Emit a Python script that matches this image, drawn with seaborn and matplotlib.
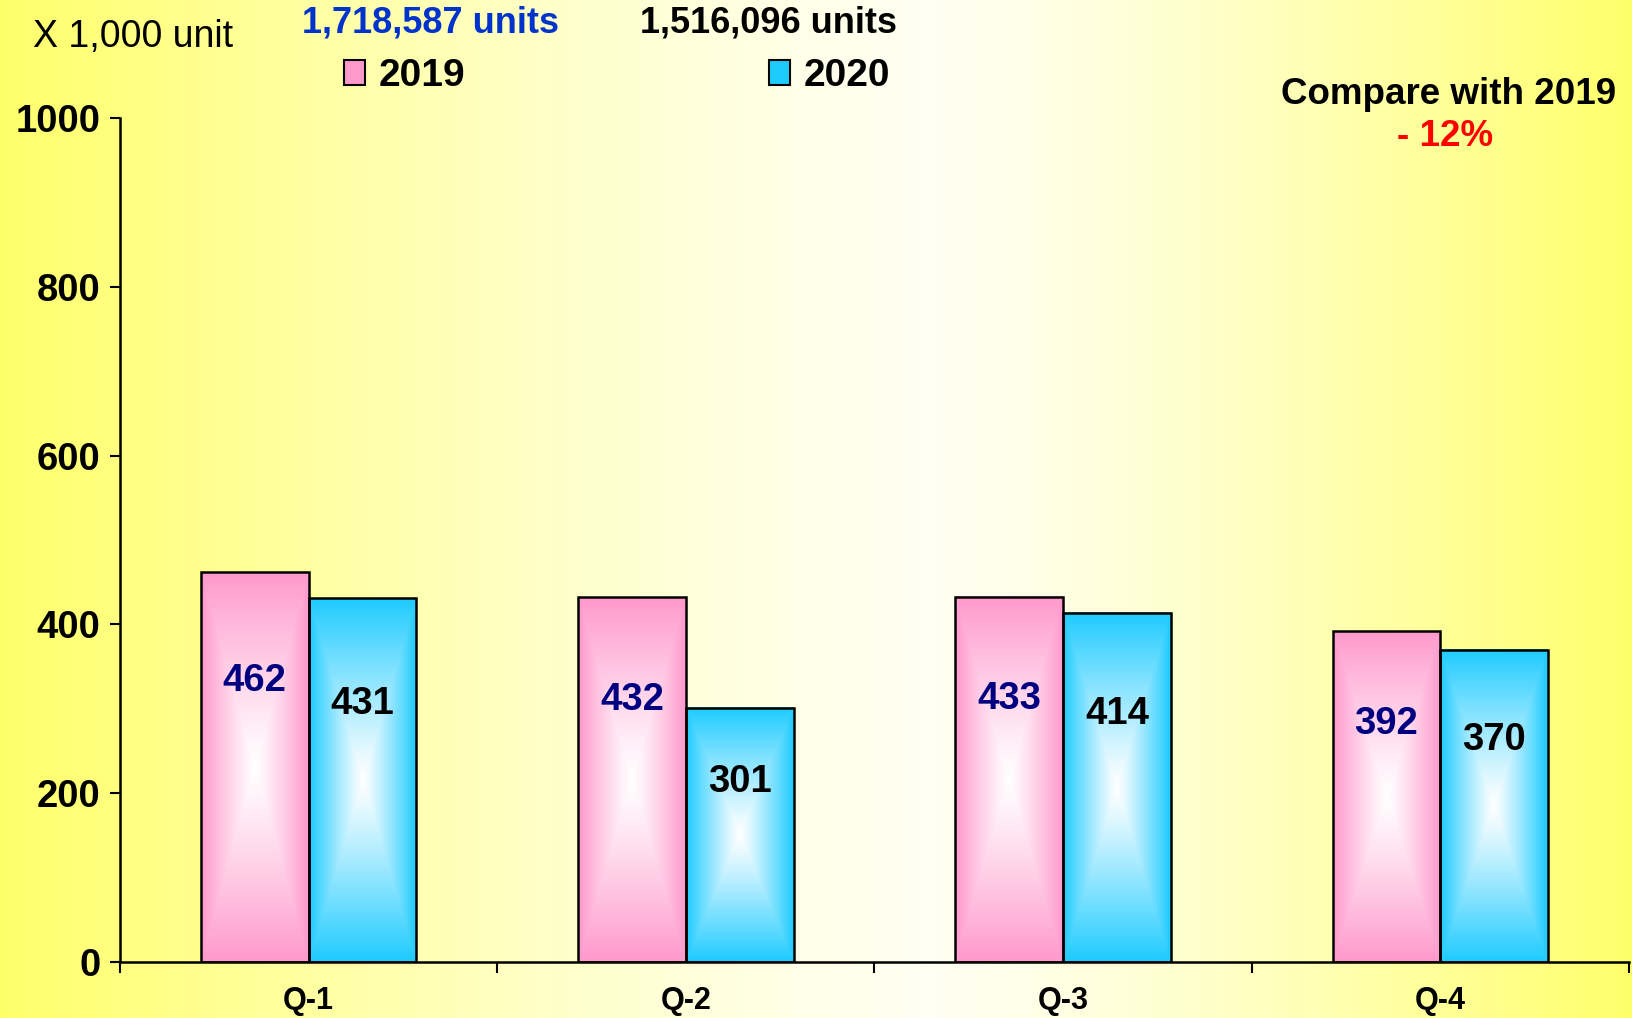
import numpy as np
import pandas as pd
import matplotlib.pyplot as plt
import matplotlib.patches as mpatches
import seaborn as sns
from matplotlib.colors import to_rgb

# -------------------------------
# Data
# -------------------------------
quarters = ["Q-1", "Q-2", "Q-3", "Q-4"]
sales_2019 = [462, 432, 433, 392]
sales_2020 = [431, 301, 414, 370]
years = ["2019", "2020"]
year_totals = ["1,718,587 units", "1,516,096 units"]
y_ticks = [0, 200, 400, 600, 800, 1000]

df = pd.DataFrame({
    "Quarter": quarters * 2,
    "Year": [years[0]] * len(quarters) + [years[1]] * len(quarters),
    "Units": sales_2019 + sales_2020,
})

pink = "#FF99CC"
blue = "#1ECBFF"

sns.set_theme(style="white")
plt.rcParams["font.family"] = ["Liberation Sans", "DejaVu Sans"]
plt.rcParams["text.color"] = "black"
plt.rcParams["xtick.color"] = "black"
plt.rcParams["ytick.color"] = "black"
plt.rcParams["axes.labelcolor"] = "black"

fig = plt.figure(figsize=(16.32, 10.18), dpi=100)

# -------------------------------
# Background gradient (yellow edges, pale centre)
# -------------------------------
bg = fig.add_axes([0, 0, 1, 1], zorder=-1)
xs = np.linspace(0, 1, 800)
c = 0.57
t = np.where(xs < c, (c - xs) / c, (xs - c) / (1 - c)) ** 1.3
light = np.array([1.0, 1.0, 0.95])
yellow = np.array([1.0, 1.0, 0.42])
img = light[None, :] * (1 - t[:, None]) + yellow[None, :] * t[:, None]
bg.imshow(img[None, :, :], aspect="auto", extent=[0, 1, 0, 1])
bg.axis("off")

# -------------------------------
# Bars
# -------------------------------
ax = fig.add_axes([0.0735, 0.055, 0.9246, 0.829])
ax.set_facecolor("none")

sns.barplot(
    data=df, x="Quarter", y="Units", hue="Year",
    palette=[pink, blue], saturation=1,
    width=0.571, gap=0,
    edgecolor="black", linewidth=1.8,
    legend=False, ax=ax
)


def fill_gradient(bar, color):
    x, w, h = bar.get_x(), bar.get_width(), bar.get_height()
    U, V = np.meshgrid(np.abs(np.linspace(-1, 1, 120)),
                       np.abs(np.linspace(-1, 1, 300)))
    k = np.maximum(U, V) ** 1.15
    rgb = np.array(to_rgb(color))
    grad = (1 - k[..., None]) * 1.0 + k[..., None] * rgb[None, None, :]
    ax.imshow(grad, extent=[x, x + w, 0, h], aspect="auto", zorder=1.5)
    bar.set_facecolor("none")
    bar.set_zorder(2)


for bars, col in zip(ax.containers, [pink, blue]):
    for bar in bars:
        fill_gradient(bar, col)

# value labels inside the bars
for bars, col, frac in zip(ax.containers, ["#000080", "black"], [0.72, 0.71]):
    for bar in bars:
        ax.text(
            bar.get_x() + bar.get_width() / 2, bar.get_height() * frac,
            f"{bar.get_height():.0f}",
            ha="center", va="center", fontsize=27.5,
            fontweight="bold", color=col, zorder=3
        )

ax.set_xlim(-0.5, 3.5)
ax.set_ylim(0, 1000)
ax.set_xlabel("")
ax.set_ylabel("")

# -------------------------------
# Axes styling
# -------------------------------
ax.set_yticks(y_ticks)
ax.tick_params(axis="y", left=True, length=7, width=1.5, pad=7,
               labelsize=27.5, direction="out", color="black",
               labelcolor="black")
for lbl in ax.get_yticklabels():
    lbl.set_fontweight("bold")

ax.set_xticks(range(len(quarters)))
ax.set_xticklabels(quarters, fontweight="bold", fontsize=22)
ax.tick_params(axis="x", which="major", length=0, pad=17, labelcolor="black")
ax.set_xticks(np.arange(-0.5, len(quarters), 1), minor=True)
ax.tick_params(axis="x", which="minor", bottom=True, length=8,
               width=1.5, direction="out", color="black")

for side in ["top", "right"]:
    ax.spines[side].set_visible(False)
for side in ["left", "bottom"]:
    ax.spines[side].set_color("black")
    ax.spines[side].set_linewidth(1.8)

# -------------------------------
# Header texts & legend
# -------------------------------
fig.text(133 / 1632, 1 - 37.5 / 1018, "X 1,000 unit",
         fontsize=27, ha="center", va="center")
fig.text(431 / 1632, 1 - 23 / 1018, year_totals[0], color="#0033CC",
         fontsize=26, fontweight="bold", ha="center", va="center")
fig.text(769 / 1632, 1 - 23 / 1018, year_totals[1], color="black",
         fontsize=26, fontweight="bold", ha="center", va="center")

handles = [
    mpatches.Patch(facecolor=pink, edgecolor="black", linewidth=1.5),
    mpatches.Patch(facecolor=blue, edgecolor="black", linewidth=1.5),
]
fig.legend(
    handles, years, ncol=2, loc="center",
    bbox_to_anchor=(0.378, 0.925), frameon=False,
    prop={"weight": "bold", "size": 28},
    handlelength=0.55, handleheight=0.6,
    handletextpad=0.35, columnspacing=7.8
)

fig.text(1449 / 1632, 1 - 94 / 1018, "Compare with 2019",
         fontsize=26.5, fontweight="bold", ha="center", va="center")
fig.text(1445 / 1632, 1 - 136 / 1018, "- 12%", color="red",
         fontsize=26.5, fontweight="bold", ha="center", va="center")

fig.savefig("out.png", dpi=100)
plt.close()
